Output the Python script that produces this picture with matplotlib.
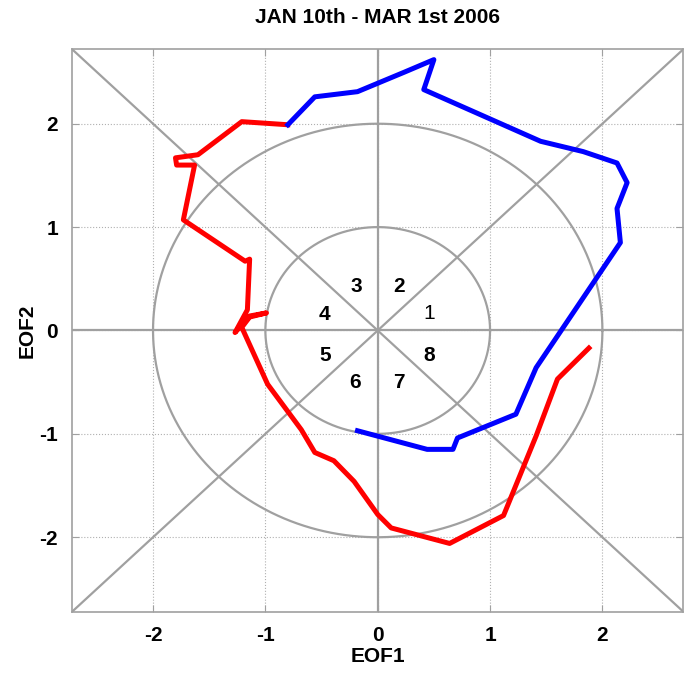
import matplotlib
matplotlib.use('Agg')
import matplotlib.pyplot as plt
import numpy as np

plt.rcParams['font.family'] = ['Liberation Sans', 'DejaVu Sans']
plt.rcParams['axes.unicode_minus'] = False

# blue segment (first part of period)
blue_x = [-0.18, 0.44, 0.67, 0.71, 1.23, 1.41, 2.16, 2.13, 2.22, 2.13, 1.83, 1.45,
          0.41, 0.50, 0.24, -0.18, -0.56, -0.80]
blue_y = [-0.97, -1.15, -1.15, -1.04, -0.81, -0.36, 0.85, 1.18, 1.43, 1.62, 1.73, 1.83,
          2.33, 2.62, 2.50, 2.31, 2.26, 1.99]

# red segment (second part)
red_x = [-0.80, -1.21, -1.60, -1.80, -1.79, -1.63, -1.73, -1.18, -1.14, -1.16, -1.27,
         -1.14, -0.99, -1.14, -1.21, -0.98, -0.68, -0.56, -0.39, -0.21, 0.0, 0.12, 0.64,
         1.12, 1.41, 1.60, 1.88]
red_y = [1.99, 2.02, 1.70, 1.67, 1.60, 1.60, 1.07, 0.67, 0.69, 0.20, -0.02,
         0.14, 0.17, 0.13, 0.03, -0.52, -0.96, -1.18, -1.26, -1.46, -1.78, -1.91, -2.06,
         -1.79, -1.02, -0.47, -0.17]

phase_labels = ['1', '2', '3', '4', '5', '6', '7', '8']
phase_x = [0.46, 0.19, -0.19, -0.47, -0.47, -0.20, 0.19, 0.46]
phase_y = [0.16, 0.43, 0.43, 0.15, -0.24, -0.50, -0.50, -0.24]

lim = 2.72
gray = '#a0a0a0'

fig = plt.figure(figsize=(6.87, 6.77), dpi=100)
ax = fig.add_axes([0.105, 0.0965, 0.8896, 0.8307])

# reference lines
t = np.linspace(0, 2 * np.pi, 400)
for r in [1, 2]:
    ax.plot(r * np.cos(t), r * np.sin(t), color=gray, lw=1.6, zorder=2)
ax.plot([-4, 4], [0, 0], color=gray, lw=1.6, zorder=2)
ax.plot([0, 0], [-4, 4], color=gray, lw=1.6, zorder=2)
ax.plot([-4, 4], [-4, 4], color=gray, lw=1.6, zorder=2)
ax.plot([-4, 4], [4, -4], color=gray, lw=1.6, zorder=2)

ax.plot(red_x, red_y, color='red', lw=3.6, zorder=3, solid_joinstyle='round')
ax.plot(blue_x, blue_y, color='blue', lw=3.6, zorder=3, solid_joinstyle='round')

for lab, px, py in zip(phase_labels, phase_x, phase_y):
    ax.text(px, py, lab, ha='center', va='center', fontsize=15,
            fontweight='normal' if lab == '1' else 'bold', zorder=4)

ax.set_xlim(-lim, lim)
ax.set_ylim(-lim, lim)
ax.set_xticks([-2, -1, 0, 1, 2])
ax.set_yticks([-2, -1, 0, 1, 2])
ax.grid(True, linestyle=':', color='#b0b0b0', lw=0.8)
ax.tick_params(direction='in', top=True, right=True, colors=gray, labelcolor='black',
               labelsize=15, length=5, pad=10)
for lbl in ax.get_xticklabels() + ax.get_yticklabels():
    lbl.set_fontweight('bold')
for s in ax.spines.values():
    s.set_color(gray)
    s.set_linewidth(1.2)

ax.set_xlabel('EOF1', fontsize=15, fontweight='bold', labelpad=2)
ax.set_ylabel('EOF2', fontsize=15, fontweight='bold', labelpad=2)
ax.set_title('JAN 10th - MAR 1st 2006', fontsize=15, fontweight='bold', pad=19)

plt.savefig('out.png', dpi=100)
